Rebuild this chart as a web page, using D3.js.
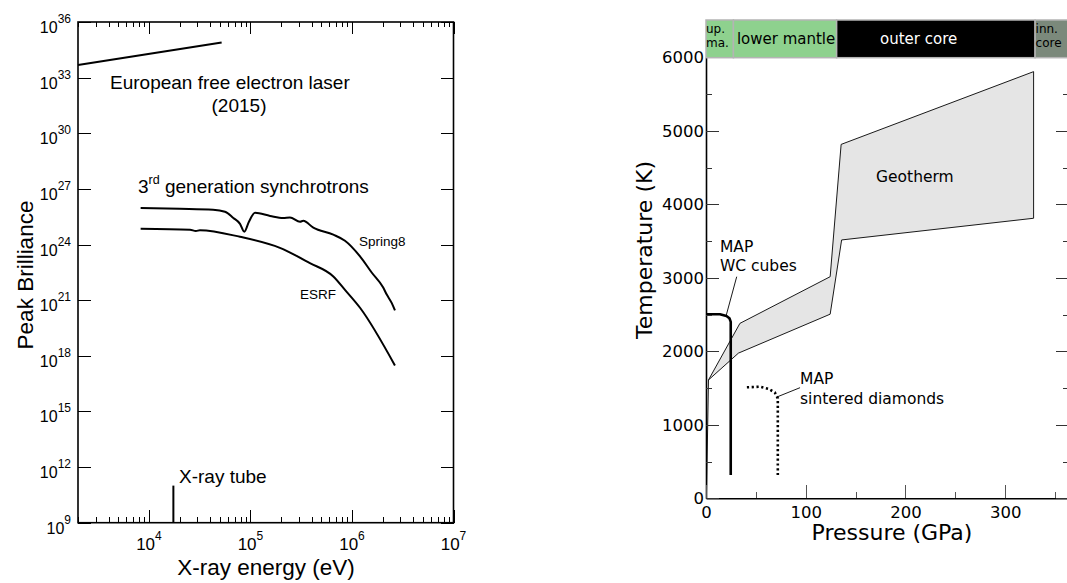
<!DOCTYPE html>
<html>
<head>
<meta charset="utf-8">
<script src="https://cdn.jsdelivr.net/npm/d3@7"></script>
<style>
  body { margin: 0; background: #fff; }
  svg { display: block; }
</style>
</head>
<body>
<script>
var width = 1067;
var height = 583;

// ---- Left panel data: peak brilliance vs X-ray energy (eV) ----
var felEnergy = [2000, 52000];
var felBrill = [4.8e33, 7.8e34];

var spring8Energy = [8280, 20200, 42800, 56100, 67800, 78900, 86900, 96600, 111000, 156000, 210000, 245000, 308000, 331000, 416000, 655000, 853000, 1200000, 1570000, 2030000, 2200000, 2460000, 2650000];
var spring8Brill = [9.3e25, 8.5e25, 7.6e25, 5.9e25, 2.7e25, 1.3e25, 4.9e24, 1.7e25, 5.1e25, 3.5e25, 2.7e25, 2.9e25, 1.7e25, 1.9e25, 8.1e24, 3.4e24, 1.6e24, 2.3e23, 3.0e22, 4.8e21, 2.0e21, 7.1e20, 2.8e20];

var esrfEnergy = [8280, 25400, 29000, 31800, 78900, 195000, 385000, 655000, 853000, 1200000, 2650000];
var esrfBrill = [7.1e24, 6.3e24, 5.3e24, 5.9e24, 2.6e24, 6.6e23, 1.0e23, 1.9e22, 3.6e21, 3.9e20, 3.0e17];

var tubeEnergy = [17400, 17400];
var tubeBrill = [1e9, 1e11];

var brillTicks = [1e9, 1e12, 1e15, 1e18, 1e21, 1e24, 1e27, 1e30, 1e33, 1e36];
var brillExp = ['9', '12', '15', '18', '21', '24', '27', '30', '33', '36'];
var energyTicks = [1e4, 1e5, 1e6, 1e7];
var energyExp = ['4', '5', '6', '7'];

// ---- Right panel data: temperature (K) vs pressure (GPa) ----
var layerName = [['up.', 'ma.'], ['lower mantle'], ['outer core'], ['inn.', 'core']];
var layerStart = [0, 27.5, 131, 330];
var layerEnd = [27.5, 131, 330, 364];
var layerLabelP = [0, 31, 174.5, 330.5];

var crustP = [0.5, 2.5];
var crustT = [60, 1610];

var geothermP = [2.5, 34, 124.5, 135.5, 328.5, 328.5, 136, 124.5, 32.5];
var geothermT = [1610, 2380, 3015, 4815, 5805, 3810, 3515, 2505, 1975];

var wcP = [0, 14, 20.5, 23.5, 24.8, 24.8];
var wcT = [2505, 2505, 2480, 2450, 2400, 317];

var diamondP = [41, 54, 62.5, 69, 72, 72];
var diamondT = [1510, 1518, 1490, 1440, 1360, 317];

var pressureTicks = [0, 100, 200, 300];
var pressureMinor = [50, 150, 250, 350];
var tempTicks = [0, 1000, 2000, 3000, 4000, 5000, 6000];
var tempMinor = [500, 1500, 2500, 3500, 4500, 5500];

// Create SVG canvas.
var svg = d3.select('body')
  .append('svg')
  .attr('width', width)
  .attr('height', height);

svg.append('rect').attr('width', width).attr('height', height).attr('fill', '#fff');

// Tick helpers (inward ticks drawn from the scales).
function vTicks(g, scale, values, y, len, color) {
  g.append('g').selectAll('line')
    .data(values)
    .enter().append('line')
    .attr('x1', function(d) { return Math.round(scale(d)) + 0.5; })
    .attr('x2', function(d) { return Math.round(scale(d)) + 0.5; })
    .attr('y1', y)
    .attr('y2', y + len)
    .attr('stroke', color)
    .attr('stroke-width', 1.5)
    .attr('shape-rendering', 'crispEdges');
}
function hTicks(g, scale, values, x, len, color) {
  g.append('g').selectAll('line')
    .data(values)
    .enter().append('line')
    .attr('y1', function(d) { return Math.round(scale(d)) + 0.5; })
    .attr('y2', function(d) { return Math.round(scale(d)) + 0.5; })
    .attr('x1', x)
    .attr('x2', x + len)
    .attr('stroke', color)
    .attr('stroke-width', 1.5)
    .attr('shape-rendering', 'crispEdges');
}

// ================= LEFT PANEL =================
var left = svg.append('g').attr('font-family', '"Liberation Sans", Arial, sans-serif');

var xL = d3.scaleLog().domain([2000, 1e7]).range([78, 453.5]);
var yL = d3.scaleLog().domain([1e9, 1e36]).range([522.7, 22]);

var minorE = xL.ticks().filter(function(d) { return energyTicks.indexOf(d) < 0; });

// frame
left.append('rect')
  .attr('x', xL(2000)).attr('y', yL(1e36))
  .attr('width', xL(1e7) - xL(2000))
  .attr('height', yL(1e9) - yL(1e36))
  .attr('fill', 'none')
  .attr('stroke', '#000')
  .attr('stroke-width', 1.6);

vTicks(left, xL, minorE, yL(1e9), -6, '#000');
vTicks(left, xL, energyTicks, yL(1e9), -13, '#000');
vTicks(left, xL, minorE, yL(1e36), 5, '#000');
vTicks(left, xL, energyTicks, yL(1e36), 12, '#000');
hTicks(left, yL, brillTicks, xL(2000), 13, '#000');
hTicks(left, yL, brillTicks, xL(1e7), -13, '#000');

// tick labels with superscripts
left.append('g').selectAll('text')
  .data(energyTicks)
  .enter().append('text')
  .attr('x', function(d) { return xL(d); })
  .attr('y', 550)
  .attr('text-anchor', 'middle')
  .attr('font-size', 17)
  .each(function(d, i) {
    var t = d3.select(this);
    t.append('tspan').text('10');
    t.append('tspan').attr('dy', -10).attr('font-size', 12).text(energyExp[i]);
  });

left.append('g').selectAll('text')
  .data(brillTicks)
  .enter().append('text')
  .attr('x', 71)
  .attr('y', function(d) { return yL(d) + 11; })
  .attr('text-anchor', 'end')
  .attr('font-size', 16)
  .each(function(d, i) {
    var t = d3.select(this);
    t.append('tspan').text('10');
    t.append('tspan').attr('dy', -10).attr('font-size', 12).text(brillExp[i]);
  });

// axis titles
left.append('text')
  .attr('x', 266).attr('y', 575)
  .attr('text-anchor', 'middle')
  .attr('font-size', 22.5)
  .text('X-ray energy (eV)');
left.append('text')
  .attr('transform', 'translate(33,' + 275 + ') rotate(-90)')
  .attr('text-anchor', 'middle')
  .attr('font-size', 22.5)
  .text('Peak Brilliance');

// curves
var lineL = d3.line()
  .x(function(d) { return xL(d[0]); })
  .y(function(d) { return yL(d[1]); })
  .curve(d3.curveMonotoneX);

[[felEnergy, felBrill], [spring8Energy, spring8Brill], [esrfEnergy, esrfBrill]]
  .forEach(function(s) {
    left.append('path')
      .datum(d3.zip(s[0], s[1]))
      .attr('d', lineL)
      .attr('fill', 'none')
      .attr('stroke', '#000')
      .attr('stroke-width', 2)
      .attr('stroke-linejoin', 'round');
  });

// X-ray tube line
left.append('line')
  .attr('x1', xL(tubeEnergy[0])).attr('x2', xL(tubeEnergy[1]))
  .attr('y1', yL(tubeBrill[0])).attr('y2', yL(tubeBrill[1]))
  .attr('stroke', '#000')
  .attr('stroke-width', 2);

// annotations
left.append('text').attr('x', 110).attr('y', 89).attr('font-size', 19)
  .text('European free electron laser');
left.append('text').attr('x', 239).attr('y', 112).attr('font-size', 19)
  .attr('text-anchor', 'middle').text('(2015)');
var gen = left.append('text').attr('x', 138).attr('y', 193).attr('font-size', 19);
gen.append('tspan').text('3');
gen.append('tspan').attr('dy', -9).attr('font-size', 12.5).text('rd');
gen.append('tspan').attr('dy', 9).text(' generation synchrotrons');
left.append('text').attr('x', 359).attr('y', 246).attr('font-size', 13.5).text('Spring8');
left.append('text').attr('x', 300).attr('y', 299).attr('font-size', 13.5).text('ESRF');
left.append('text').attr('x', 179).attr('y', 483).attr('font-size', 19).text('X-ray tube');

// ================= RIGHT PANEL =================
var right = svg.append('g').attr('font-family', '"DejaVu Sans", sans-serif');

var xR = d3.scaleLinear().domain([0, 364]).range([706, 1069]);
var yR = d3.scaleLinear().domain([0, 6000]).range([498.3, 57.3]);

// geotherm band
var lineR = d3.line()
  .x(function(d) { return xR(d[0]); })
  .y(function(d) { return yR(d[1]); });

right.append('path')
  .datum(d3.zip(geothermP, geothermT))
  .attr('d', function(d) { return lineR(d) + 'Z'; })
  .attr('fill', '#e5e5e5')
  .attr('stroke', '#000')
  .attr('stroke-width', 0.9)
  .attr('stroke-linejoin', 'round');

right.append('path')
  .datum(d3.zip(crustP, crustT))
  .attr('d', lineR)
  .attr('fill', 'none')
  .attr('stroke', '#000')
  .attr('stroke-width', 0.9);

// MAP WC cubes
right.append('path')
  .datum(d3.zip(wcP, wcT))
  .attr('d', lineR)
  .attr('fill', 'none')
  .attr('stroke', '#000')
  .attr('stroke-width', 2.6)
  .attr('stroke-linejoin', 'round');

// MAP sintered diamonds
right.append('path')
  .datum(d3.zip(diamondP, diamondT))
  .attr('d', lineR)
  .attr('fill', 'none')
  .attr('stroke', '#000')
  .attr('stroke-width', 2.6)
  .attr('stroke-dasharray', '2.2,2.6');

// leader lines
right.append('line')
  .attr('x1', xR(30.8)).attr('y1', yR(3015))
  .attr('x2', xR(20)).attr('y2', yR(2475))
  .attr('stroke', '#000').attr('stroke-width', 0.9);
right.append('line')
  .attr('x1', xR(72)).attr('y1', yR(1383))
  .attr('x2', xR(94.3)).attr('y2', yR(1505))
  .attr('stroke', '#000').attr('stroke-width', 0.9);

// axes (lines + labels)
function styleAxisR(g) {
  g.select('.domain').attr('stroke', '#000').attr('stroke-width', 1.6);
  g.selectAll('.tick line').remove();
  g.selectAll('.tick text').attr('font-family', '"DejaVu Sans", sans-serif').attr('font-size', 16.5).attr('fill', '#000');
}
right.append('g').attr('transform', 'translate(0,' + yR(0) + ')')
  .call(d3.axisBottom(xR).tickValues(pressureTicks).tickSize(0).tickPadding(8).tickFormat(d3.format('d')))
  .call(styleAxisR);
right.append('g').attr('transform', 'translate(' + xR(0) + ',0)')
  .call(d3.axisLeft(yR).tickValues(tempTicks).tickSize(0).tickPadding(2).tickFormat(d3.format('d')))
  .call(styleAxisR);

// ticks
vTicks(right, xR, pressureMinor, yR(0), -6, '#555');
vTicks(right, xR, pressureTicks, yR(0), -13, '#555');
hTicks(right, yR, tempMinor, xR(0), 6, '#333');
hTicks(right, yR, tempTicks, xR(0), 13, '#333');
hTicks(right, yR, tempMinor, xR(364), -6, '#333');
hTicks(right, yR, tempTicks, xR(364), -13, '#333');

// layer bar on top
var layerColor = ['#8ed18e', '#8ed18e', '#000000', '#7b897b'];
var barTop = 20, barBottom = 57.7;
right.append('g').selectAll('rect')
  .data(layerStart)
  .enter().append('rect')
  .attr('x', function(d) { return xR(d); })
  .attr('y', barTop)
  .attr('width', function(d, i) { return xR(layerEnd[i]) - xR(d); })
  .attr('height', barBottom - barTop)
  .attr('fill', function(d, i) { return layerColor[i]; })
  .attr('stroke', '#b4b4b4')
  .attr('stroke-width', 1.5);

right.append('g').selectAll('text')
  .data(layerName)
  .enter().append('text')
  .attr('font-size', function(d) { return d.length > 1 ? 12 : 15; })
  .attr('fill', function(d, i) { return i === 2 ? '#fff' : '#000'; })
  .each(function(d, i) {
    var t = d3.select(this);
    if (d.length > 1) {
      t.append('tspan').attr('x', xR(layerLabelP[i])).attr('y', 32.5).text(d[0]);
      t.append('tspan').attr('x', xR(layerLabelP[i])).attr('y', 46.8).text(d[1]);
    } else {
      t.attr('x', xR(layerLabelP[i])).attr('y', 44).text(d[0]);
    }
  });

// axis titles
right.append('text')
  .attr('x', 892).attr('y', 540)
  .attr('text-anchor', 'middle')
  .attr('font-size', 22)
  .text('Pressure (GPa)');
right.append('text')
  .attr('transform', 'translate(652,' + 250 + ') rotate(-90)')
  .attr('text-anchor', 'middle')
  .attr('font-size', 22)
  .text('Temperature (K)');

// annotations
right.append('text').attr('x', xR(170.5)).attr('y', yR(4307)).attr('font-size', 15.5).text('Geotherm');
right.append('text').attr('x', xR(14)).attr('y', yR(3351)).attr('font-size', 15.5).text('MAP');
right.append('text').attr('x', xR(14)).attr('y', yR(3351) + 18.5).attr('font-size', 15.5).text('WC cubes');
right.append('text').attr('x', xR(94.3)).attr('y', yR(1555)).attr('font-size', 15.5).text('MAP');
right.append('text').attr('x', xR(94.3)).attr('y', yR(1555) + 19.5).attr('font-size', 15.5).text('sintered diamonds');
</script>
</body>
</html>
